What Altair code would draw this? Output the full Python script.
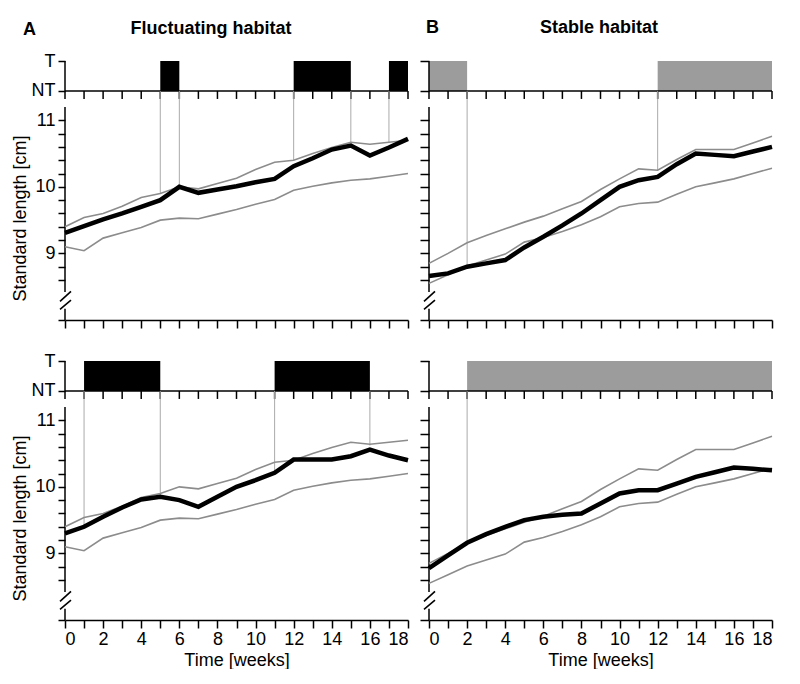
import altair as alt
import pandas as pd

weeks = list(range(19))

# Fluctuating habitat (A)
fluct_upper = [9.40, 9.54, 9.60, 9.71, 9.84, 9.90, 10.00, 9.97, 10.05, 10.13, 10.26, 10.37, 10.40, 10.50, 10.59, 10.67, 10.64, 10.67, 10.70]
fluct_lower = [9.10, 9.04, 9.23, 9.31, 9.39, 9.50, 9.53, 9.52, 9.59, 9.66, 9.74, 9.81, 9.95, 10.01, 10.06, 10.10, 10.12, 10.16, 10.20]
fluct_mean_top = [9.31, 9.41, 9.51, 9.60, 9.70, 9.80, 10.00, 9.91, 9.96, 10.01, 10.07, 10.12, 10.31, 10.43, 10.56, 10.62, 10.47, 10.59, 10.72]
fluct_mean_bottom = [9.30, 9.40, 9.55, 9.69, 9.81, 9.85, 9.80, 9.70, 9.85, 10.00, 10.10, 10.21, 10.41, 10.41, 10.41, 10.46, 10.56, 10.47, 10.40]

# Stable habitat (B)
stable_upper = [8.85, 9.00, 9.16, 9.27, 9.37, 9.47, 9.56, 9.67, 9.78, 9.96, 10.12, 10.27, 10.25, 10.41, 10.56, 10.56, 10.56, 10.66, 10.76]
stable_lower = [8.55, 8.68, 8.81, 8.90, 8.99, 9.17, 9.24, 9.33, 9.43, 9.55, 9.70, 9.75, 9.77, 9.89, 10.00, 10.06, 10.12, 10.20, 10.28]
stable_mean_top = [8.66, 8.70, 8.80, 8.85, 8.90, 9.09, 9.25, 9.42, 9.60, 9.80, 10.00, 10.10, 10.15, 10.34, 10.50, 10.48, 10.46, 10.53, 10.60]
stable_mean_bottom = [8.78, 8.97, 9.16, 9.29, 9.40, 9.50, 9.55, 9.58, 9.60, 9.75, 9.90, 9.95, 9.95, 10.05, 10.15, 10.22, 10.29, 10.27, 10.25]

# T periods (start, end weeks)
t_start_A1 = [5, 12, 17]
t_end_A1 = [6, 15, 18]
t_start_B1 = [0, 12]
t_end_B1 = [2, 18]
t_start_A2 = [1, 11]
t_end_A2 = [5, 16]
t_start_B2 = [2]
t_end_B2 = [18]

# switch lines (week, value where they meet the curves)
switch_A1 = [5, 6, 12, 15, 17]
switch_end_A1 = [9.90, 10.00, 10.40, 10.67, 10.67]
switch_A2 = [1, 5, 11, 16]
switch_end_A2 = [9.42, 9.88, 10.24, 10.62]
switch_B1 = [2, 12]
switch_end_B1 = [8.80, 10.25]
switch_B2 = [2]
switch_end_B2 = [9.17]

y_ticks = [8.0, 8.6, 8.8, 9.0, 9.2, 9.4, 9.6, 9.8, 10.0, 10.2, 10.4, 10.6, 10.8, 11.0]

# layout constants (value-space levels for the T/NT strip and axis break)
Y0 = 8.0
TOP = 11.2
NT = 11.44
T = 11.89
BREAK_LO = 8.17
BREAK_HI = 8.42
TICK_DROP = 0.12
W, H = 343, 259
FONT = "Liberation Sans"

one = pd.DataFrame({"k": [0]})


def panel(mean, upper, lower, ts, te, sw, swe, fill, left, bottom,
          letter, letter_x, letter_y, title, title_x, title_y, ytick):
    df = pd.DataFrame({"week": weeks, "upper": upper, "lower": lower, "mean": mean})
    long = df.melt("week", var_name="series", value_name="length")
    tdf = pd.DataFrame({"start": ts, "end": te})
    swdf = pd.DataFrame({"week": sw, "end": swe})
    wdf = pd.DataFrame({"week": weeks})

    xs = alt.Scale(domain=[0, 18], nice=False, zero=False)
    ys = alt.Scale(domain=[Y0, T], nice=False, zero=False)
    xkw = dict(values=weeks, tickSize=8, labelPadding=2, labelOverlap=False, grid=False)
    if bottom:
        xaxis = alt.Axis(title="Time [weeks]", titlePadding=3,
                         labelExpr="datum.value % 2 == 0 ? datum.label : ''", **xkw)
    else:
        xaxis = alt.Axis(title=None, labels=False, **xkw)
    yexpr = (f"datum.value == {T} ? 'T' : datum.value == {NT} ? 'NT' : "
             "(datum.value >= 9 && abs(datum.value - round(datum.value)) < 0.001) ? format(datum.value, 'd') : ''")
    ykw = dict(values=y_ticks + [NT, T], domain=False, tickSize=ytick, grid=False,
               labelPadding=3, labelOverlap=False)
    if left:
        yaxis = alt.Axis(title="Standard length [cm]", titlePadding=2, titleY=157,
                         labelExpr=yexpr, **ykw)
    else:
        yaxis = alt.Axis(title=None, labels=False, **ykw)

    def X(f):
        return alt.X(f, scale=xs, axis=xaxis)

    def Y(f):
        return alt.Y(f, scale=ys, axis=yaxis)

    def XD(v):
        return alt.XDatum(v, type="quantitative", scale=xs, axis=xaxis)

    def YD(v):
        return alt.YDatum(v, type="quantitative", scale=ys, axis=yaxis)

    layers = []
    # T/NT strip
    layers.append(alt.Chart(tdf).mark_rect(color=fill).encode(
        x=X("start:Q"), x2="end:Q", y=YD(NT), y2=alt.Y2Datum(T)))
    layers.append(alt.Chart(one).mark_rule(color="black", strokeWidth=1.5).encode(
        x=XD(0), x2=alt.X2Datum(18), y=YD(NT)))
    layers.append(alt.Chart(wdf).mark_rule(color="black", strokeWidth=1.5).encode(
        x=X("week:Q"), y=YD(NT), y2=alt.Y2Datum(NT - TICK_DROP)))
    # y axis line with break
    for lo, hi in [(Y0, BREAK_LO), (BREAK_HI, TOP), (NT, T)]:
        layers.append(alt.Chart(one).mark_rule(color="black", strokeWidth=1.5).encode(
            x=alt.value(0), y=YD(lo), y2=alt.Y2Datum(hi)))
    for (x1, y1, x2, y2) in [(-5, 8.16, 6, 8.30), (-5, 8.28, 6, 8.43)]:
        layers.append(alt.Chart(one).mark_rule(color="black", strokeWidth=1.6).encode(
            x=alt.value(x1), x2=alt.value(x2), y=YD(y1), y2=alt.Y2Datum(y2)))
    # switch lines
    layers.append(alt.Chart(swdf).mark_rule(color="#aaaaaa", strokeWidth=1).encode(
        x=X("week:Q"), y=Y("end:Q"), y2=alt.Y2Datum(NT)))
    # envelopes and mean
    layers.append(alt.Chart(long).transform_filter("datum.series != 'mean'").mark_line(
        color="#8c8c8c", strokeWidth=1.6).encode(
        x=X("week:Q"), y=Y("length:Q"), detail="series:N"))
    layers.append(alt.Chart(long).transform_filter("datum.series == 'mean'").mark_line(
        color="black", strokeWidth=4.5).encode(x=X("week:Q"), y=Y("length:Q")))
    if letter:
        lab = pd.DataFrame({"letter": [letter], "title": [title]})
        layers.append(alt.Chart(lab).mark_text(
            align="left", baseline="alphabetic", fontSize=18, fontWeight="bold", font=FONT,
            color="black").encode(text="letter:N", x=alt.value(letter_x), y=alt.value(letter_y)))
        layers.append(alt.Chart(lab).mark_text(
            align="center", baseline="alphabetic", fontSize=18, fontWeight="bold", font=FONT,
            color="black").encode(text="title:N", x=alt.value(title_x), y=alt.value(title_y)))
    return alt.layer(*layers).properties(width=W, height=H)


A1 = panel(fluct_mean_top, fluct_upper, fluct_lower, t_start_A1, t_end_A1, switch_A1, switch_end_A1,
           "black", True, False, "A", -42, -26, "Fluctuating habitat", 146, -27, 7)
B1 = panel(stable_mean_top, stable_upper, stable_lower, t_start_B1, t_end_B1, switch_B1, switch_end_B1,
           "#9c9c9c", False, False, "B", -3, -28, "Stable habitat", 170, -28, 9)
A2 = panel(fluct_mean_bottom, fluct_upper, fluct_lower, t_start_A2, t_end_A2, switch_A2, switch_end_A2,
           "black", True, True, None, 0, 0, None, 0, 0, 7)
B2 = panel(stable_mean_bottom, stable_upper, stable_lower, t_start_B2, t_end_B2, switch_B2, switch_end_B2,
           "#9c9c9c", False, True, None, 0, 0, None, 0, 0, 9)

chart = alt.concat(
    A1, B1, A2, B2, columns=2, spacing={"row": 41, "column": 21}, bounds="flush"
).properties(
    padding={"left": 3, "top": 11, "right": 5, "bottom": 0}
).configure(
    font=FONT
).configure_view(strokeWidth=0).configure_axis(
    labelFont=FONT, titleFont=FONT, labelFontSize=18, titleFontSize=18, titleFontWeight="normal",
    labelColor="black", titleColor="black", domainColor="black", tickColor="black",
    domainWidth=1.5, tickWidth=1.5
)

chart.save("out.html", embed_options={"renderer": "svg", "actions": False})
